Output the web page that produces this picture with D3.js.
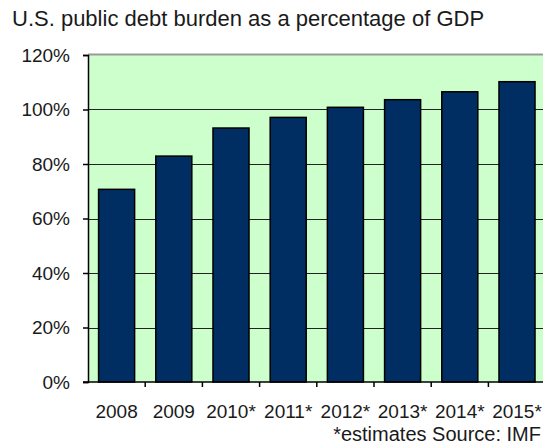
<!DOCTYPE html>
<html>
<head>
<meta charset="utf-8">
<script src="https://cdn.jsdelivr.net/npm/d3@7"></script>
<style>
  html, body { margin: 0; padding: 0; background: #ffffff; }
  svg { display: block; }
  text { font-family: "Liberation Sans", Arial, sans-serif; fill: #1a1a1a; }
</style>
</head>
<body>
<svg id="chart" width="543" height="446"></svg>
<script>
const titleText = "U.S. public debt burden as a percentage of GDP";
const footerText = "*estimates Source: IMF";
const categories = ["2008", "2009", "2010*", "2011*", "2012*", "2013*", "2014*", "2015*"];
const debtPct = [70.7, 82.9, 93.2, 97.1, 100.8, 103.6, 106.5, 110.2];
const yTicks = [0, 20, 40, 60, 80, 100, 120];

const svg = d3.select("#chart");
const margin = { left: 88, top: 55, bottom: 64 };
const plotRight = 545.6;
const plotBottom = 382;

const x = d3.scaleBand()
  .domain(categories)
  .range([margin.left, plotRight])
  .paddingInner(0.37)
  .paddingOuter(0.185);

const y = d3.scaleLinear()
  .domain([0, 120])
  .range([plotBottom, margin.top]);

// plot background
svg.append("rect")
  .attr("x", margin.left)
  .attr("y", margin.top)
  .attr("width", plotRight - margin.left)
  .attr("height", plotBottom - margin.top)
  .attr("fill", "#ccffcc");

// gridlines
svg.append("g")
  .selectAll("line")
  .data(yTicks.filter(d => d > 0 && d < 120))
  .join("line")
  .attr("x1", margin.left)
  .attr("x2", plotRight)
  .attr("y1", d => Math.round(y(d)) + 0.5)
  .attr("y2", d => Math.round(y(d)) + 0.5)
  .attr("stroke", "#222")
  .attr("stroke-width", 1);

// top border
svg.append("line")
  .attr("x1", margin.left).attr("x2", plotRight)
  .attr("y1", Math.round(y(120)) - 0.5).attr("y2", Math.round(y(120)) - 0.5)
  .attr("stroke", "#9a9a9a").attr("stroke-width", 2);

// bars
svg.append("g")
  .selectAll("rect")
  .data(categories.map((c, i) => ({ c, v: debtPct[i] })))
  .join("rect")
  .attr("x", d => x(d.c))
  .attr("y", d => y(d.v))
  .attr("width", x.bandwidth())
  .attr("height", d => y(0) - y(d.v))
  .attr("fill", "#002d62")
  .attr("stroke", "#000")
  .attr("stroke-width", 1.5);

// y axis
const yAxis = d3.axisLeft(y)
  .tickValues(yTicks)
  .tickFormat(d => d + "%")
  .tickSize(5)
  .tickPadding(13);
const yg = svg.append("g")
  .attr("transform", `translate(${margin.left},0)`)
  .call(yAxis);
yg.select(".domain").attr("stroke", "#000").attr("stroke-width", 1.5);
yg.selectAll(".tick line").attr("stroke", "#000").attr("stroke-width", 1.5);
yg.selectAll("text")
  .attr("font-size", 19)
  .attr("fill", "#1a1a1a")
  .attr("font-family", "'Liberation Sans', Arial, sans-serif");

// x axis baseline and ticks at category boundaries
const step = x.step();
const boundaries = categories.map((c, i) => margin.left + step * (i + 1));
svg.append("line")
  .attr("x1", margin.left - 5).attr("x2", plotRight)
  .attr("y1", plotBottom).attr("y2", plotBottom)
  .attr("stroke", "#000").attr("stroke-width", 1.5);
svg.append("g")
  .selectAll("line")
  .data(boundaries)
  .join("line")
  .attr("x1", d => d).attr("x2", d => d)
  .attr("y1", plotBottom).attr("y2", plotBottom + 5)
  .attr("stroke", "#000").attr("stroke-width", 1.5);

// x labels
svg.append("g")
  .selectAll("text")
  .data(categories)
  .join("text")
  .attr("x", d => x(d) + x.bandwidth() / 2)
  .attr("y", 418)
  .attr("text-anchor", "middle")
  .attr("font-size", 19)
  .text(d => d);

// title
svg.append("text")
  .attr("x", 12)
  .attr("y", 26)
  .attr("font-size", 22)
  .text(titleText);

// footer
svg.append("text")
  .attr("x", 541)
  .attr("y", 441)
  .attr("text-anchor", "end")
  .attr("font-size", 20)
  .text(footerText);
</script>
</body>
</html>
